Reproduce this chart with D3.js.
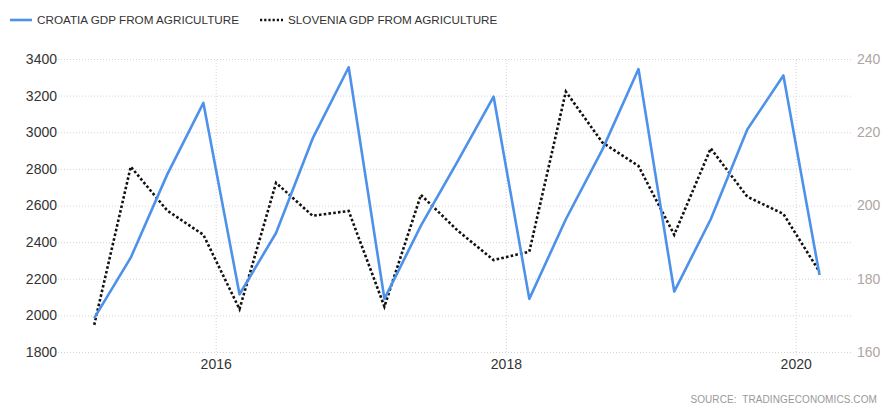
<!DOCTYPE html>
<html>
<head>
<meta charset="utf-8">
<script src="https://cdn.jsdelivr.net/npm/d3@7.9.0/dist/d3.min.js"></script>
<style>
  body { margin: 0; background: #fff; }
  svg { display: block; font-family: "Liberation Sans", Arial, sans-serif; }
</style>
</head>
<body>
<div id="chart"></div>
<script>
// quarterly dates (tradingeconomics plots them on the first of the quarter's last month)
const quarters = [
  '2015-03-01', '2015-06-01', '2015-09-01', '2015-12-01',
  '2016-03-01', '2016-06-01', '2016-09-01', '2016-12-01',
  '2017-03-01', '2017-06-01', '2017-09-01', '2017-12-01',
  '2018-03-01', '2018-06-01', '2018-09-01', '2018-12-01',
  '2019-03-01', '2019-06-01', '2019-09-01', '2019-12-01',
  '2020-03-01'
];
const croatia = [
  1985, 2315, 2770, 3160, 2115, 2450, 2965, 3355, 2090, 2490, 2840,
  3195, 2090, 2525, 2905, 3345, 2130, 2525, 3015, 3310, 2220
];
const slovenia = [
  167.4, 210.6, 198.6, 192.0, 171.7, 206.2, 197.2, 198.5, 172.4, 202.9, 193.2,
  185.1, 187.4, 231.1, 217.2, 210.8, 192.0, 215.6, 202.4, 197.7, 181.9
];
const leftTicks = [1800, 2000, 2200, 2400, 2600, 2800, 3000, 3200, 3400];
const rightTicks = [160, 180, 200, 220, 240];
const yearTicks = ['2016-01-01', '2018-01-01', '2020-01-01'];
const seriesNames = ['CROATIA GDP FROM AGRICULTURE', 'SLOVENIA GDP FROM AGRICULTURE'];

const width = 882;
const height = 405;
const parse = d3.timeParse('%Y-%m-%d');

const data = quarters.map((q, i) => ({
  date: parse(q),
  hr: croatia[i],
  si: slovenia[i]
}));

const plot = { left: 58, right: 853, top: 59, bottom: 352 };

const svg = d3.select('#chart')
  .append('svg')
  .attr('width', width)
  .attr('height', height);

// x pinned so that 2016 and 2020 land on the reference gridlines
const xScale = d3.scaleTime()
  .domain([parse('2016-01-01'), parse('2020-01-01')])
  .range([215.7, 795.7]);
const yLeft = d3.scaleLinear().domain([1800, 3400]).range([plot.bottom, plot.top]);
const yRight = d3.scaleLinear().domain([160, 240]).range([plot.bottom, plot.top]);

// horizontal gridlines
svg.append('g')
  .attr('class', 'gridlines')
  .attr('transform', `translate(${plot.left}, 0)`)
  .call(d3.axisLeft(yLeft).tickValues(leftTicks).tickFormat('').tickSize(-(plot.right - plot.left)))
  .call((g) => g.select('.domain').remove())
  .selectAll('line')
  .attr('stroke', '#d4d4d4')
  .attr('stroke-dasharray', '1,2');

// vertical gridlines at year ticks
svg.append('g')
  .attr('transform', `translate(0, ${plot.bottom + 3})`)
  .call(d3.axisBottom(xScale).tickValues(yearTicks.map(parse)).tickFormat('').tickSize(-(plot.bottom + 3 - plot.top)))
  .call((g) => g.select('.domain').remove())
  .selectAll('line')
  .attr('stroke', '#d4d4d4')
  .attr('stroke-dasharray', '1,2');

// left axis labels
svg.append('g')
  .attr('transform', `translate(${plot.left}, 0)`)
  .call(d3.axisLeft(yLeft).tickValues(leftTicks).tickSize(0).tickPadding(1).tickFormat(d3.format('d')))
  .call((g) => g.select('.domain').remove())
  .selectAll('text')
  .style('font-size', '14px')
  .attr('fill', '#333');

// right axis labels
svg.append('g')
  .attr('transform', `translate(${plot.right}, 0)`)
  .call(d3.axisRight(yRight).tickValues(rightTicks).tickSize(0).tickPadding(4).tickFormat(d3.format('d')))
  .call((g) => g.select('.domain').remove())
  .selectAll('text')
  .style('font-size', '14px')
  .attr('fill', '#ada6a2');

// x axis labels
svg.append('g')
  .attr('transform', `translate(0, ${plot.bottom})`)
  .call(d3.axisBottom(xScale).tickValues(yearTicks.map(parse)).tickSize(0).tickPadding(7).tickFormat(d3.timeFormat('%Y')))
  .call((g) => g.select('.domain').remove())
  .selectAll('text')
  .style('font-size', '14px')
  .attr('fill', '#333');

// lines
const lineHr = d3.line().x((d) => xScale(d.date)).y((d) => yLeft(d.hr));
const lineSi = d3.line().x((d) => xScale(d.date)).y((d) => yRight(d.si));

svg.append('path')
  .datum(data)
  .attr('d', lineSi)
  .attr('fill', 'none')
  .attr('stroke', '#111')
  .attr('stroke-width', 2.6)
  .attr('stroke-dasharray', '2.6,2.2');

svg.append('path')
  .datum(data)
  .attr('d', lineHr)
  .attr('fill', 'none')
  .attr('stroke', '#4d91ea')
  .attr('stroke-width', 2.6)
  .attr('stroke-linejoin', 'round');

// legend
const legend = svg.append('g').attr('class', 'legend');
legend.append('line')
  .attr('x1', 10).attr('x2', 32).attr('y1', 20).attr('y2', 20)
  .attr('stroke', '#4d91ea').attr('stroke-width', 2.6);
legend.append('text')
  .attr('x', 37).attr('y', 24)
  .style('font-size', '11.7px').attr('fill', '#333')
  .text(seriesNames[0]);
legend.append('line')
  .attr('x1', 260).attr('x2', 283).attr('y1', 20).attr('y2', 20)
  .attr('stroke', '#111').attr('stroke-width', 2.4).attr('stroke-dasharray', '2.2,2');
legend.append('text')
  .attr('x', 288).attr('y', 24)
  .style('font-size', '11.7px').attr('fill', '#333')
  .text(seriesNames[1]);

// source
svg.append('text')
  .attr('x', 877).attr('y', 403)
  .attr('text-anchor', 'end')
  .style('font-size', '10px')
  .style('letter-spacing', '0.1px')
  .attr('fill', '#999')
  .attr('xml:space', 'preserve')
  .text('SOURCE:  TRADINGECONOMICS.COM');
</script>
</body>
</html>
